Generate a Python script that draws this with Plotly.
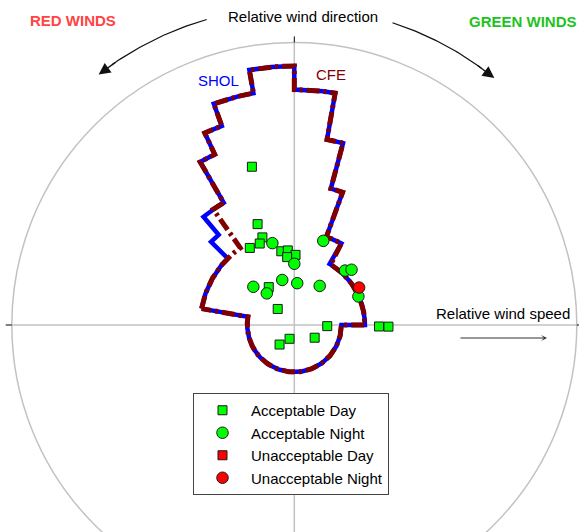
import numpy as np
import plotly.graph_objects as go

# ---------------------------------------------------------------------------
# Operating envelopes: sector edges (relative wind direction, degrees clockwise
# from the bow) and the limiting relative wind speed (kn) inside each sector.
# ---------------------------------------------------------------------------
shol_edges = [-80, -45, -40, -30, -25, -20, -10, 0, 10, 15, 20, 30, 90, 280]
shol_speed = [20, 25, 30, 40, 45, 50, 55, 50, 40, 30, 20, 15, 10]

cfe_edges = [-80, -35, -30, -25, -20, -10, 0, 10, 15, 20, 30, 90, 280]
cfe_speed = [20, 30, 40, 45, 50, 55, 50, 40, 30, 20, 15, 10]

# Observations: relative wind direction (deg) and relative wind speed (kn)
acc_day_dir = [-15, -20, -20, -23, -30, -10, -5, 1, -6, -34, -46, 92, 91, 91, 199, 217, 122]
acc_day_speed = [34.8, 22.8, 19.8, 18.8, 18.9, 15.9, 15.9, 14.9, 14.5, 9.7, 4.9, 7.0, 18.0, 20.0, 3.1, 5.2, 5.1]

acc_night_dir = [-15, 0, 19, 43, 46, -15, 4, 33, -47, -41, 66]
acc_night_speed = [18.0, 13.0, 18.9, 15.8, 16.9, 9.9, 8.9, 9.9, 11.9, 8.9, 14.9]

unacc_day_dir = []
unacc_day_speed = []

unacc_night_dir = [60]
unacc_night_speed = [15.9]

OUTER_SPEED = 60          # outer reference circle (kn)
ARROW_SPEED = 67.5        # radius of the curved direction arrows (kn)

# view window (kn) so that the polar origin sits left of centre, high up
X_RANGE = [-62.51, 60.47]
Y_RANGE = [-43.97, 69.03]

FONT = "Liberation Sans, Arial, sans-serif"
GRID = "#c2c2c2"


def to_xy(direction, speed):
    a = np.radians(np.asarray(direction, dtype=float))
    s = np.asarray(speed, dtype=float)
    return s * np.sin(a), s * np.cos(a)


def envelope_xy(edges, speeds):
    xs, ys = [], []
    for a0, a1, s in zip(edges[:-1], edges[1:], speeds):
        n = max(2, int(abs(a1 - a0)) + 1)
        x, y = to_xy(np.linspace(a0, a1, n), np.full(n, s))
        xs.extend(x.tolist())
        ys.extend(y.tolist())
    xs.append(xs[0])
    ys.append(ys[0])
    return xs, ys


fig = go.Figure()

# envelopes
sx, sy = envelope_xy(shol_edges, shol_speed)
fig.add_trace(go.Scatter(x=sx, y=sy, mode="lines", name="SHOL", showlegend=False,
                         hoverinfo="skip", line=dict(color="#0000ff", width=4.5)))
cx, cy = envelope_xy(cfe_edges, cfe_speed)
fig.add_trace(go.Scatter(x=cx, y=cy, mode="lines", name="CFE", showlegend=False,
                         hoverinfo="skip",
                         line=dict(color="#800000", width=5, dash="13px,4px,3px,4px")))

# observations
series = [
    ("Acceptable Day", acc_day_dir, acc_day_speed, "square", "#00ff00", 9),
    ("Acceptable Night", acc_night_dir, acc_night_speed, "circle", "#00ff00", 11.5),
    ("Unacceptable Day", unacc_day_dir, unacc_day_speed, "square", "#ff0000", 9),
    ("Unacceptable Night", unacc_night_dir, unacc_night_speed, "circle", "#ff0000", 11.5),
]
for name, d, s, sym, col, size in series:
    if len(d):
        x, y = to_xy(d, s)
        x, y = x.tolist(), y.tolist()
    else:
        # no observations in this class; keep the legend entry
        x, y = [None], [None]
    fig.add_trace(go.Scatter(
        x=x, y=y, mode="markers", name=name,
        marker=dict(symbol=sym, color=col, size=size, line=dict(color="#1a1a1a", width=1)),
    ))

# curved direction arrows
for a_start, a_end in [(-16, -38), (18, 39)]:
    ang = np.linspace(a_start, a_end - np.sign(a_end) * 3, 40)
    ax_, ay_ = to_xy(ang, np.full(ang.size, ARROW_SPEED))
    fig.add_trace(go.Scatter(x=ax_, y=ay_, mode="lines", showlegend=False, hoverinfo="skip",
                             line=dict(color="#111111", width=1.2)))
    tip_x, tip_y = to_xy([a_end], [ARROW_SPEED])
    tail_x, tail_y = to_xy([a_end - np.sign(a_end) * 4], [ARROW_SPEED])
    fig.add_annotation(x=float(tip_x[0]), y=float(tip_y[0]), ax=float(tail_x[0]), ay=float(tail_y[0]),
                       xref="x", yref="y", axref="x", ayref="y", text="", showarrow=True,
                       arrowhead=2, arrowsize=1.8, arrowwidth=1.3, arrowcolor="#111111", standoff=0)

shapes = [
    dict(type="circle", xref="x", yref="y", x0=-OUTER_SPEED, y0=-OUTER_SPEED,
         x1=OUTER_SPEED, y1=OUTER_SPEED, line=dict(color=GRID, width=1.5), layer="below"),
    dict(type="line", xref="x", yref="y", x0=-OUTER_SPEED, y0=0, x1=OUTER_SPEED, y1=0,
         line=dict(color=GRID, width=1.5), layer="below"),
    dict(type="line", xref="x", yref="y", x0=0, y0=OUTER_SPEED, x1=0, y1=Y_RANGE[0],
         line=dict(color=GRID, width=1.5), layer="below"),
    # short ticks where the axes leave the outer circle
    dict(type="line", xref="x", yref="y", x0=-OUTER_SPEED, y0=0, x1=-OUTER_SPEED - 1.3, y1=0,
         line=dict(color="#000000", width=1), layer="below"),
    dict(type="line", xref="x", yref="y", x0=OUTER_SPEED, y0=0, x1=OUTER_SPEED + 1.3, y1=0,
         line=dict(color="#000000", width=1), layer="below"),
    dict(type="line", xref="x", yref="y", x0=0, y0=OUTER_SPEED, x1=0, y1=OUTER_SPEED + 1.3,
         line=dict(color="#000000", width=1), layer="below"),
]


def ann(text, x, y, size=15, color="#000000", xanchor="center"):
    return dict(text=text, x=x, y=y, xref="paper", yref="paper", showarrow=False,
                xanchor=xanchor, yanchor="middle", font=dict(family=FONT, size=size, color=color))


annotations = [
    ann("Relative wind direction", 303 / 579, 1 - 17 / 532),
    ann("<b>RED WINDS</b>", 72.5 / 579, 1 - 20 / 532, color="#ff4444"),
    ann("<b>GREEN WINDS</b>", 523 / 579, 1 - 21 / 532, color="#1ec31e"),
    ann("SHOL", 218 / 579, 1 - 81 / 532, color="#0000ff"),
    ann("CFE", 331 / 579, 1 - 74 / 532, color="#800000"),
    ann("Relative wind speed", 572 / 579, 1 - 313 / 532, xanchor="right"),
    dict(text="", x=547 / 579, y=1 - 338 / 532, xref="paper", yref="paper", ax=-88, ay=0,
         showarrow=True, arrowhead=3, arrowsize=1, arrowwidth=1, arrowcolor="#333333", standoff=0),
]
for a in annotations:
    fig.add_annotation(**a)

fig.update_layout(
    width=579, height=532,
    margin=dict(l=0, r=0, t=0, b=0, autoexpand=False),
    paper_bgcolor="white", plot_bgcolor="white",
    font=dict(family=FONT, size=15, color="#000000"),
    xaxis=dict(range=X_RANGE, visible=False, showgrid=False, zeroline=False),
    yaxis=dict(range=Y_RANGE, visible=False, showgrid=False, zeroline=False),
    shapes=shapes,
    showlegend=True,
    legend=dict(x=193 / 579, y=1 - 393 / 532, xanchor="left", yanchor="top",
                bgcolor="white", bordercolor="#444444", borderwidth=1,
                font=dict(family=FONT, size=15, color="#000000"), itemwidth=47),
)

fig.write_html("out.html")
